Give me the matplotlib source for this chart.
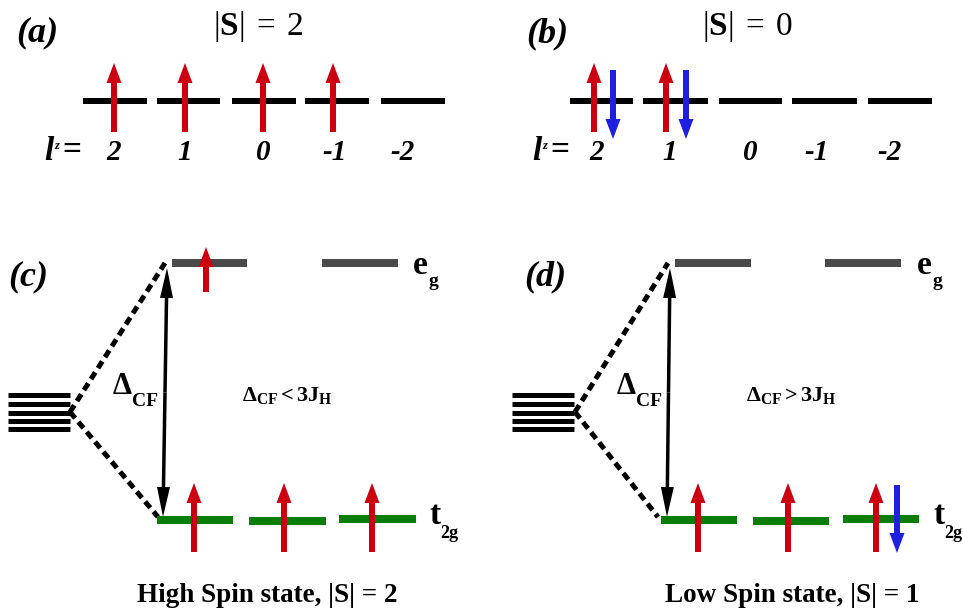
# -*- coding: utf-8 -*-
"""d4 能级示意图：自由离子 l^z 能级 + 晶体场分裂 (高/低自旋)。"""

import matplotlib
matplotlib.use("Agg")
import matplotlib.pyplot as plt
from matplotlib.patches import FancyArrow

plt.rcParams["font.family"] = ["Liberation Serif", "DejaVu Serif"]
plt.rcParams["mathtext.fontset"] = "custom"
plt.rcParams["mathtext.rm"] = "Liberation Serif"
plt.rcParams["mathtext.bf"] = "Liberation Serif:bold"
plt.rcParams["mathtext.it"] = "Liberation Serif:italic"

# ---- 数据（像素坐标，y 向下）----
LZ_LABELS = ["2", "1", "0", "-1", "-2"]

A_LEVELS = [(83, 147), (157, 220), (232, 296), (305, 369), (381, 445)]
A_UP = [114, 185, 263, 333]
A_LZ_X = [114, 185, 263, 335, 403]

B_LEVELS = [(570, 633), (643, 708), (719, 782), (792, 857), (868, 932)]
B_UP = [594, 666]
B_DOWN = [613, 686]
B_LZ_X = [597, 670, 750, 817, 890]

C_EG = [(172, 247), (322, 398)]
C_EG_UP = [206]
C_T2G = [(157, 233, 520), (249, 326, 521), (339, 416, 519)]
C_T2G_UP = [194, 284, 372]
C_T2G_DOWN = []

D_EG = [(675, 751), (825, 901)]
D_EG_UP = []
D_T2G = [(661, 737, 520), (753, 829, 521), (843, 919, 519)]
D_T2G_UP = [698, 788, 876]
D_T2G_DOWN = [897]

STACK_Y = [395, 404, 413, 421, 429]

RED = "#cc0010"
BLUE = "#1f1fe0"
GRAY = "#4a4a4a"
GREEN = "#0b7d0b"
PX = 0.72  # 1 px -> pt at dpi 100


def hline(ax, x0, x1, y, color, lw_px):
    ax.plot([x0, x1], [y, y], color=color, lw=lw_px * PX, solid_capstyle="butt")


def spin(ax, x, y0, y1, color):
    ax.add_patch(FancyArrow(x, y0, 0, y1 - y0, width=6, head_width=15,
                            head_length=20, length_includes_head=True,
                            color=color, lw=0, zorder=3))


def double_arrow(ax, xa, ya, xb, yb):
    xm, ym = (xa + xb) / 2, (ya + yb) / 2
    for xe, ye in [(xa, ya), (xb, yb)]:
        ax.add_patch(FancyArrow(xm, ym, xe - xm, ye - ym, width=3.5,
                                head_width=13, head_length=30,
                                length_includes_head=True, color="black",
                                lw=0, zorder=3))


def lz_row(ax, x_eq_left, xs):
    ax.text(x_eq_left - 13, 152, "l", fontsize=24, fontweight="bold",
            fontstyle="italic", ha="center", va="center")
    ax.text(x_eq_left - 5, 146, "z", fontsize=9, fontweight="bold",
            fontstyle="italic", ha="center", va="center")
    ax.text(x_eq_left + 10, 151, "=", fontsize=24, fontweight="bold",
            ha="center", va="center")
    for x, lab in zip(xs, LZ_LABELS):
        ax.text(x, 153, lab, fontsize=21, fontweight="bold", fontstyle="italic",
                ha="center", va="center")


def cf_panel(ax, stack_x, apex, eg_top, t2g_bot, arrow_top, arrow_bot,
             eg, eg_up, t2g, t2g_up, t2g_down, delta_x, cond_x, cond, lab_x,
             caption_x, caption):
    for y in STACK_Y:
        hline(ax, stack_x[0], stack_x[1], y, "black", 5)
    for end in (eg_top, t2g_bot):
        ax.plot([apex[0], end[0]], [apex[1], end[1]], color="black",
                lw=5 * PX, ls=(0, (1.6, 1.0)))
    double_arrow(ax, arrow_top[0], arrow_top[1], arrow_bot[0], arrow_bot[1])
    for x0, x1 in eg:
        hline(ax, x0, x1, 263, GRAY, 8)
    for x in eg_up:
        spin(ax, x, 292, 247, RED)
    for x0, x1, y in t2g:
        hline(ax, x0, x1, y, GREEN, 8)
    for x in t2g_up:
        spin(ax, x, 552, 483, RED)
    for x in t2g_down:
        spin(ax, x, 485, 553, BLUE)

    ax.text(delta_x, 386, r"$\mathbf{\Delta}$", fontsize=22, ha="center", va="center")
    ax.text(delta_x + 10, 401, "CF", fontsize=14, fontweight="bold", ha="left", va="center")
    ax.text(cond_x, 395, cond, fontsize=16, ha="center", va="center")

    ax.text(lab_x, 265, "e", fontsize=24, fontweight="bold", ha="center", va="center")
    ax.text(lab_x + 13, 281, "g", fontsize=14, fontweight="bold", ha="center", va="center")
    ax.text(lab_x + 15, 516, "t", fontsize=24, fontweight="bold", ha="center", va="center")
    ax.text(lab_x + 20, 533, "2g", fontsize=13, fontweight="bold", ha="left", va="center")

    ax.text(caption_x, 595, caption, fontsize=19.5, fontweight="bold",
            ha="center", va="center")


def main():
    fig = plt.figure(figsize=(9.63, 6.16), dpi=100)
    ax = fig.add_axes([0, 0, 1, 1])
    ax.set_xlim(0, 963)
    ax.set_ylim(616, 0)
    ax.set_aspect("equal")
    ax.axis("off")

    # (a)
    ax.text(37, 33, "(a)", fontsize=26, fontweight="bold", fontstyle="italic",
            ha="center", va="center")
    ax.text(258, 27, r"$|\mathbf{S}|\;=\;2$", fontsize=24, ha="center", va="center")
    for x0, x1 in A_LEVELS:
        hline(ax, x0, x1, 101, "black", 6)
    for x in A_UP:
        spin(ax, x, 132, 63, RED)
    lz_row(ax, 62, A_LZ_X)

    # (b)
    ax.text(547, 34, "(b)", fontsize=26, fontweight="bold", fontstyle="italic",
            ha="center", va="center")
    ax.text(748, 27, r"$|\mathbf{S}|\;=\;0$", fontsize=24, ha="center", va="center")
    for x0, x1 in B_LEVELS:
        hline(ax, x0, x1, 101, "black", 6)
    for x in B_UP:
        spin(ax, x, 132, 63, RED)
    for x in B_DOWN:
        spin(ax, x, 70, 139, BLUE)
    lz_row(ax, 550, B_LZ_X)

    # (c) 高自旋
    ax.text(28, 277, "(c)", fontsize=26, fontweight="bold", fontstyle="italic",
            ha="center", va="center")
    cf_panel(ax, (8, 70), (70, 412), (165, 263), (158, 517), (167, 268), (163, 517),
             C_EG, C_EG_UP, C_T2G, C_T2G_UP, C_T2G_DOWN,
             122, 287, r"$\mathbf{\Delta_{CF} < 3J_H}$", 420,
             267, "High Spin state, |S| = 2")

    # (d) 低自旋
    ax.text(545, 277, "(d)", fontsize=26, fontweight="bold", fontstyle="italic",
            ha="center", va="center")
    cf_panel(ax, (512, 574), (575, 412), (668, 263), (658, 517), (670, 268), (667, 517),
             D_EG, D_EG_UP, D_T2G, D_T2G_UP, D_T2G_DOWN,
             626, 791, r"$\mathbf{\Delta_{CF} > 3J_H}$", 924,
             792, "Low Spin state, |S| = 1")

    fig.savefig("out.png", dpi=100, facecolor="white")
    plt.close(fig)


if __name__ == "__main__":
    main()
